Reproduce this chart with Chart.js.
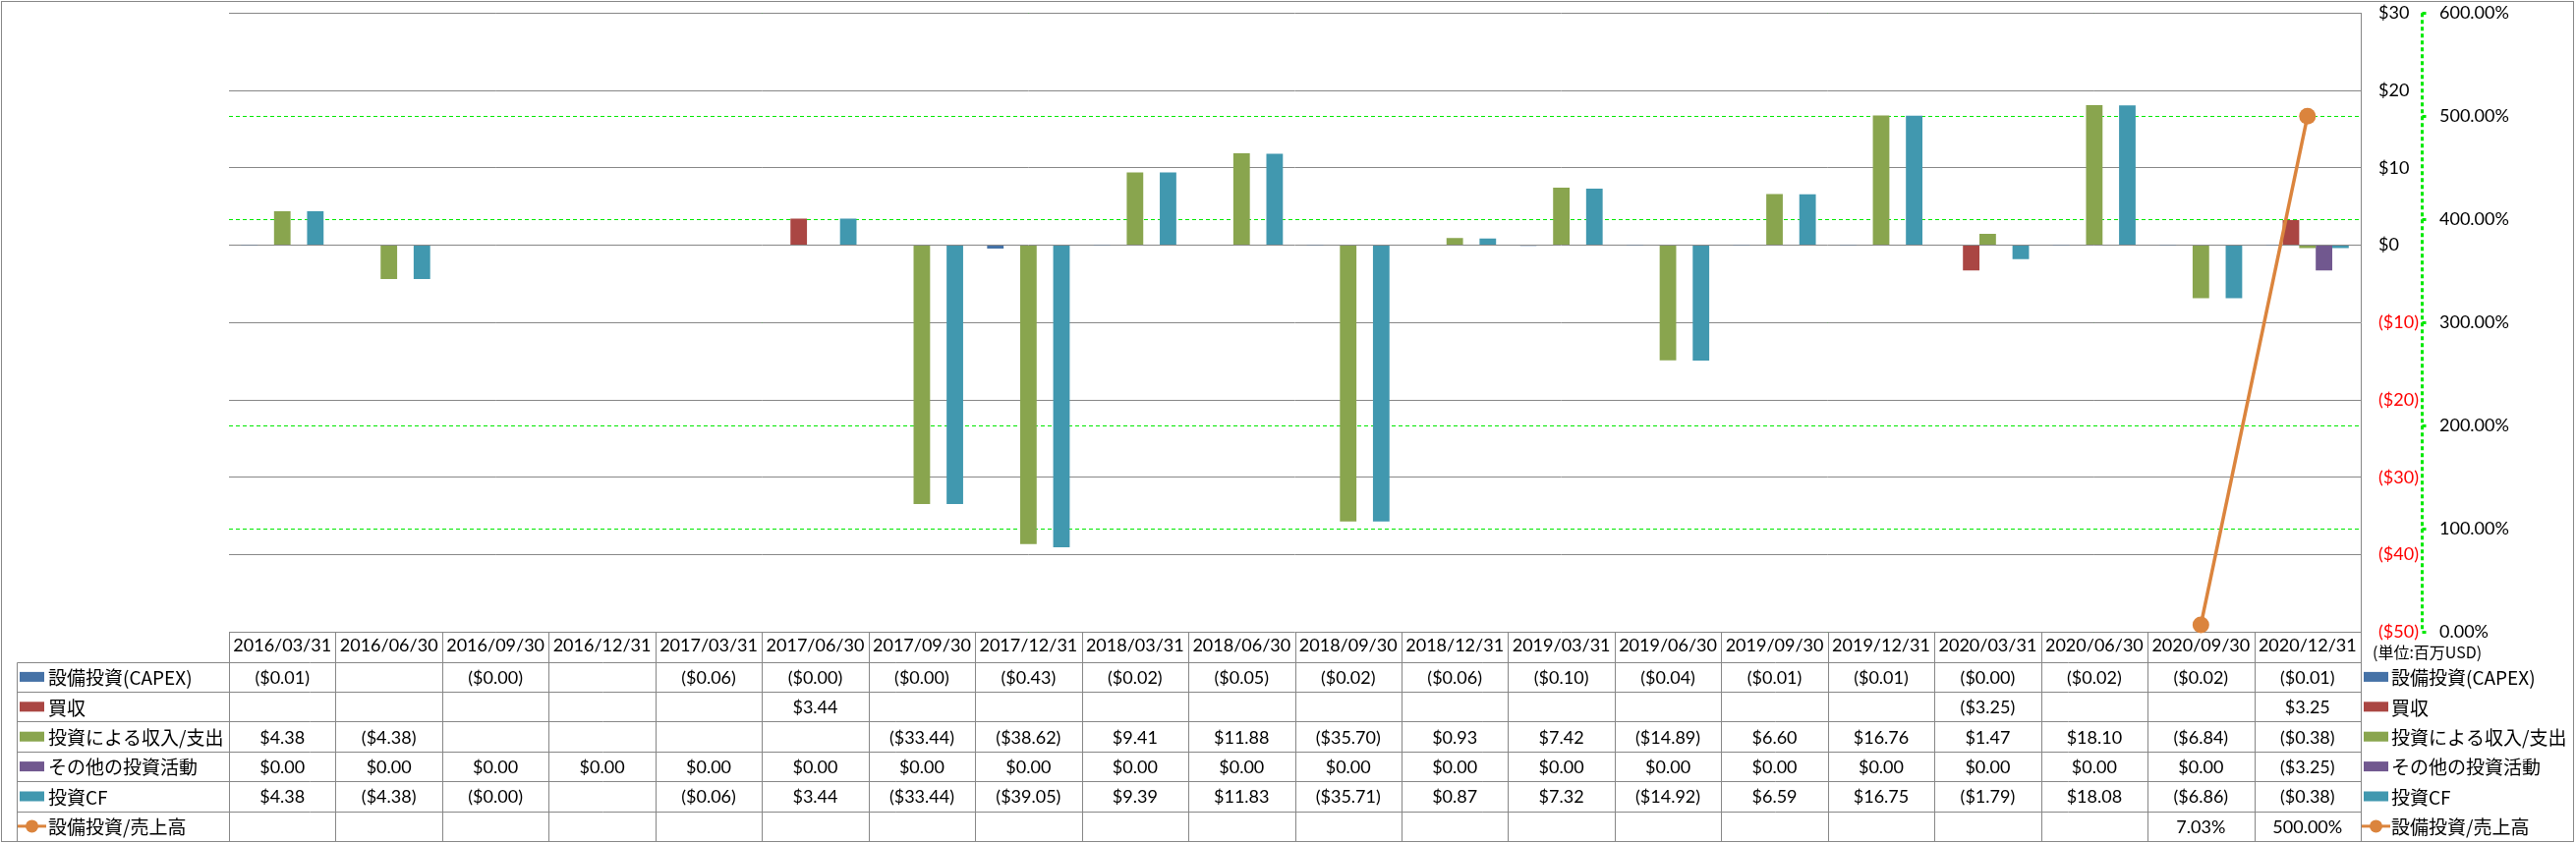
<!DOCTYPE html>
<html>
<head>
<meta charset="utf-8">
<script src="https://cdn.jsdelivr.net/npm/chart.js@4.4.1/dist/chart.umd.min.js"></script>
<style>
html,body{margin:0;padding:0;background:#fff;overflow:hidden}
#wrap{position:relative;width:2621px;height:858px}
</style>
</head>
<body>
<div id="wrap"><canvas id="c" width="2621" height="858"></canvas></div>
<script>
// ---------- data ----------
const categories = ['2016/03/31','2016/06/30','2016/09/30','2016/12/31','2017/03/31','2017/06/30','2017/09/30','2017/12/31','2018/03/31','2018/06/30','2018/09/30','2018/12/31','2019/03/31','2019/06/30','2019/09/30','2019/12/31','2020/03/31','2020/06/30','2020/09/30','2020/12/31'];
const seriesNames = ['設備投資(CAPEX)','買収','投資による収入/支出','その他の投資活動','投資CF','設備投資/売上高'];
const capex        = [-0.01, null, -0, null, -0.06, -0, -0, -0.43, -0.02, -0.05, -0.02, -0.06, -0.10, -0.04, -0.01, -0.01, -0, -0.02, -0.02, -0.01];
const acquisitions = [null, null, null, null, null, 3.44, null, null, null, null, null, null, null, null, null, null, -3.25, null, null, 3.25];
const investIncome = [4.38, -4.38, null, null, null, null, -33.44, -38.62, 9.41, 11.88, -35.70, 0.93, 7.42, -14.89, 6.60, 16.76, 1.47, 18.10, -6.84, -0.38];
const otherInvest  = [0, 0, 0, 0, 0, 0, 0, 0, 0, 0, 0, 0, 0, 0, 0, 0, 0, 0, 0, -3.25];
const investCF     = [4.38, -4.38, -0, null, -0.06, 3.44, -33.44, -39.05, 9.39, 11.83, -35.71, 0.87, 7.32, -14.92, 6.59, 16.75, -1.79, 18.08, -6.86, -0.38];
const capexToSales = [null, null, null, null, null, null, null, null, null, null, null, null, null, null, null, null, null, null, 7.03, 500.00];
const dollarAxis   = {min: -50, max: 30, step: 10};
const percentAxis  = {min: 0, max: 600, step: 100};
const unitLabel = '(単位:百万USD)';

// ---------- styles ----------
const COLORS = ['#4572A7', '#AA4643', '#89A54E', '#71588F', '#4198AF', '#DB843D'];
const GRID = '#878787';
const GREEN = '#00E800';
const NUM_SIZE = 18;
const NUM_FONT = NUM_SIZE + 'px Lato, "Noto Sans CJK JP", sans-serif';
const JP_FONT = '19px "Noto Sans CJK JP", sans-serif';
const CLEAR = 'rgba(0,0,0,0)';

const money = v => (v === null || v === undefined) ? '' :
  ((v < 0 || Object.is(v, -0)) ? '($' + Math.abs(v).toFixed(2) + ')' : '$' + v.toFixed(2));
const pct = v => (v === null || v === undefined) ? '' : v.toFixed(2) + '%';

const barSeries = [capex, acquisitions, investIncome, otherInvest, investCF];
const tableRows = [
  {values: capex, fmt: money, kind: 'bar'},
  {values: acquisitions, fmt: money, kind: 'bar'},
  {values: investIncome, fmt: money, kind: 'bar'},
  {values: otherInvest, fmt: money, kind: 'bar'},
  {values: investCF, fmt: money, kind: 'bar'},
  {values: capexToSales, fmt: pct, kind: 'line'}
];

function legendIcon(ctx, i, x, yMid) {
  if (tableRows[i].kind === 'bar') {
    ctx.fillStyle = COLORS[i];
    ctx.fillRect(x, yMid - 5, 25, 10);
  } else {
    ctx.strokeStyle = COLORS[i];
    ctx.lineWidth = 3;
    ctx.beginPath(); ctx.moveTo(x - 2, yMid); ctx.lineTo(x + 27, yMid); ctx.stroke();
    ctx.fillStyle = COLORS[i];
    ctx.beginPath(); ctx.arc(x + 12.5, yMid, 6.5, 0, Math.PI * 2); ctx.fill();
  }
}

const tablePlugin = {
  id: 'dataTable',
  afterDraw(chart) {
    const ctx = chart.ctx;
    const area = chart.chartArea;
    const xs = chart.scales.x;
    const n = categories.length;
    const colW = (area.right - area.left) / n;
    const rowH = 30.4;
    const headTop = area.bottom;
    const bodyTop = headTop + rowH;
    const tableBottom = bodyTop + rowH * tableRows.length;
    const labelLeft = 16.5;
    const px = v => Math.round(v) + 0.5;

    ctx.save();
    ctx.strokeStyle = GRID;
    ctx.lineWidth = 1;
    ctx.setLineDash([]);
    // vertical column lines
    ctx.beginPath();
    for (let i = 0; i <= n; i++) {
      const x = px(area.left + i * colW);
      ctx.moveTo(x, Math.round(headTop)); ctx.lineTo(x, tableBottom);
    }
    ctx.moveTo(px(labelLeft), px(bodyTop)); ctx.lineTo(px(labelLeft), tableBottom);
    // horizontal row lines
    for (let r = 0; r <= tableRows.length; r++) {
      const y = px(bodyTop + r * rowH);
      ctx.moveTo(px(labelLeft), y); ctx.lineTo(px(area.right), y);
    }
    ctx.stroke();

    // outer chart border
    ctx.strokeRect(1.5, 1.5, 2617, 855);

    // cell values
    ctx.fillStyle = '#000';
    ctx.textAlign = 'center';
    ctx.textBaseline = 'middle';
    ctx.font = NUM_FONT;
    tableRows.forEach((row, r) => {
      const yMid = bodyTop + r * rowH + rowH / 2 + 1;
      row.values.forEach((v, i) => {
        const t = row.fmt(v);
        if (t) ctx.fillText(t, xs.getPixelForValue(i), yMid);
      });
    });

    // row labels (left) and legend (right)
    ctx.textAlign = 'left';
    ctx.font = JP_FONT;
    tableRows.forEach((row, r) => {
      const yMid = bodyTop + r * rowH + rowH / 2;
      legendIcon(ctx, r, 20, yMid);
      ctx.fillStyle = '#000';
      ctx.fillText(seriesNames[r], 49, yMid + 1);
      legendIcon(ctx, r, 2405, yMid);
      ctx.fillStyle = '#000';
      ctx.fillText(seriesNames[r], 2433, yMid + 1);
    });

    // unit label
    ctx.font = '16px "Noto Sans CJK JP", sans-serif';
    ctx.fillStyle = '#000';
    ctx.fillText(unitLabel, 2414, headTop + 21);

    // dashed percent axis line with short tick marks
    const y1 = chart.scales.y1;
    const ax = px(y1.left);
    ctx.strokeStyle = GREEN;
    ctx.setLineDash([4, 3]);
    ctx.beginPath();
    ctx.moveTo(ax, area.top); ctx.lineTo(ax, area.bottom);
    ctx.stroke();
    ctx.setLineDash([]);
    ctx.beginPath();
    y1.ticks.forEach(t => {
      const y = px(y1.getPixelForValue(t.value));
      ctx.moveTo(ax, y); ctx.lineTo(ax + 4, y);
    });
    ctx.stroke();
    ctx.restore();
  }
};

Chart.defaults.font.family = 'Lato, "Noto Sans CJK JP", sans-serif';
Chart.defaults.color = '#000';

const barDatasets = barSeries.map((vals, i) => ({
  type: 'bar',
  label: seriesNames[i],
  data: vals,
  backgroundColor: COLORS[i],
  borderWidth: 0,
  yAxisID: 'y',
  order: 1,
  barPercentage: 1,
  categoryPercentage: 0.775
}));

new Chart(document.getElementById('c'), {
  data: {
    labels: categories,
    datasets: [
      {
        type: 'line',
        label: seriesNames[5],
        data: capexToSales,
        borderColor: COLORS[5],
        backgroundColor: COLORS[5],
        borderWidth: 3.5,
        pointRadius: 8.5,
        pointBackgroundColor: COLORS[5],
        pointBorderColor: COLORS[5],
        pointBorderWidth: 0,
        tension: 0,
        yAxisID: 'y1',
        order: 0,
        clip: false
      },
      ...barDatasets
    ]
  },
  plugins: [tablePlugin],
  options: {
    responsive: false,
    animation: false,
    devicePixelRatio: 1,
    layout: {padding: {left: 233, right: 7, top: 13.3, bottom: 0}},
    plugins: {legend: {display: false}, tooltip: {enabled: false}, title: {display: false}},
    scales: {
      x: {
        type: 'category',
        offset: true,
        grid: {display: false, drawTicks: false},
        border: {display: false},
        ticks: {
          autoSkip: false, maxRotation: 0, minRotation: 0, padding: 3.5,
          font: {size: NUM_SIZE}, color: '#000'
        },
        afterFit: s => { s.height = 214.7; }
      },
      y: {
        position: 'right',
        min: dollarAxis.min, max: dollarAxis.max,
        grid: {color: GRID, lineWidth: 1, drawTicks: true, tickLength: 18, tickColor: CLEAR, z: -1},
        border: {display: true, color: GRID, width: 1},
        ticks: {
          stepSize: dollarAxis.step,
          padding: 0,
          crossAlign: 'near',
          font: {size: NUM_SIZE},
          color: c => (c.tick && c.tick.value < 0) ? '#FF0000' : '#000',
          callback: v => v < 0 ? '($' + Math.abs(v) + ')' : '$' + v
        },
        afterFit: s => { s.width = 62; }
      },
      y1: {
        position: 'right',
        min: percentAxis.min, max: percentAxis.max,
        grid: {
          color: GREEN, lineWidth: 1, drawTicks: true, tickLength: 16,
          tickColor: CLEAR, tickBorderDash: [], z: -2
        },
        border: {display: false, dash: [4, 3]},
        ticks: {
          stepSize: percentAxis.step,
          padding: 2,
          crossAlign: 'near',
          font: {size: NUM_SIZE},
          color: '#000',
          callback: v => v.toFixed(2) + '%'
        },
        afterFit: s => { s.width = 150; }
      }
    }
  }
});
</script>
</body>
</html>
